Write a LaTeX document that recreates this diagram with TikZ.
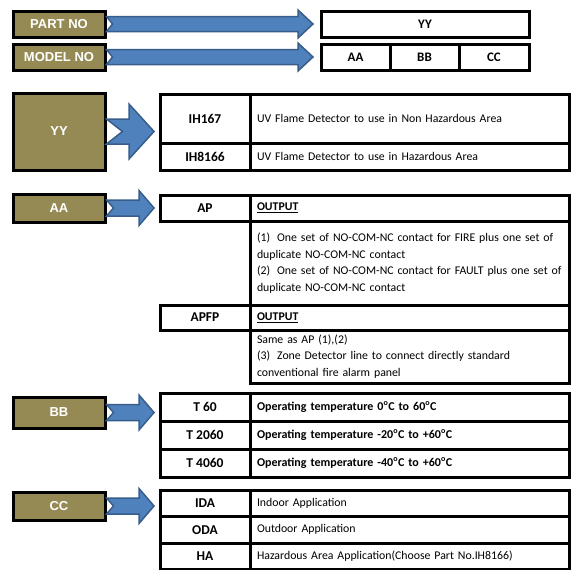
\documentclass[tikz,border=0pt]{standalone}
\usepackage{fontspec}
\setmainfont{Carlito}
\newfontfamily\arialfont{Liberation Sans}
\usetikzlibrary{calc}
\definecolor{olivebox}{RGB}{149,138,84}
\definecolor{arrowfill}{RGB}{79,129,189}
\definecolor{arrowline}{RGB}{56,93,138}
\newcommand\degC{\textsuperscript{o}C}
% notched block arrow: tail, tip, shaft half, head half, head length, notch
\newcommand\blockarrow[6]{%
  \draw[barrow] let \p1=#1, \p2=#2 in
    (\x1,\y1+#3pt) -- (\x2-#5pt,\y1+#3pt) -- (\x2-#5pt,\y1+#4pt) -- (\x2,\y1)
    -- (\x2-#5pt,\y1-#4pt) -- (\x2-#5pt,\y1-#3pt) -- (\x1,\y1-#3pt) -- (\x1+#6pt,\y1) -- cycle;}
\tikzset{
  olive/.style={draw=black,line width=3pt,fill=olivebox,text=white,inner sep=0pt,
    minimum width=92pt,font=\arialfont\bfseries\fontsize{13}{13}\selectfont},
  cell/.style={draw=black,line width=3pt,inner sep=0pt,outer sep=0pt,anchor=north west},
  headcell/.style={cell,minimum height=26pt,font=\bfseries\fontsize{13}{14}\selectfont},
  codecell/.style={cell,minimum width=90pt,font=\bfseries\fontsize{13.5}{15}\selectfont},
  desccell/.style={cell,inner xsep=7pt,text width=305pt,align=left,
    font=\fontsize{11.8}{16.5}\selectfont},
  tempcell/.style={desccell,font=\bfseries\fontsize{12}{14}\selectfont},
  barrow/.style={fill=arrowfill,draw=arrowline,line width=1.5pt,line join=miter}
}
\begin{document}
\begin{tikzpicture}[x=1pt,y=-1pt]
\useasboundingbox (0,0) rectangle (574,570);
% part and model number
\node[olive,minimum height=26pt] (partno) at (59,24) {PART NO};
\node[olive,minimum height=26pt] (modelno) at (59,57) {MODEL NO};
\node[headcell,minimum width=208pt] (yytop) at (321,11) {YY};
\node[headcell,minimum width=69pt] (aatop) at (321,44) {AA};
\node[headcell,minimum width=69pt] (bbtop) at (aatop.north east) {BB};
\node[headcell,minimum width=70pt] (cctop) at (bbtop.north east) {CC};
\blockarrow{(partno.east)}{([xshift=-8pt]yytop.west)}{7.5}{14}{15}{6}
\blockarrow{(modelno.east)}{([xshift=-8pt]aatop.west)}{7.5}{14}{15}{6}
% YY
\node[olive,minimum height=77pt] (yysec) at (59,131.5) {YY};
\node[codecell,minimum height=49pt] (ih167) at (160,94) {IH167};
\node[desccell,minimum height=49pt] (ih167d) at (ih167.north east) {UV Flame Detector to use in Non Hazardous Area};
\node[codecell,minimum height=27pt] (ih8166) at (ih167.south west) {IH8166};
\node[desccell,minimum height=27pt] (ih8166d) at (ih8166.north east) {UV Flame Detector to use in Hazardous Area};
\blockarrow{(yysec.east)}{([xshift=-6pt]ih167.west)}{12.5}{27.5}{25}{16}
% AA
\node[olive,minimum height=28pt] (aasec) at (59,208) {AA};
\node[codecell,minimum height=26pt] (ap) at (160,195) {AP};
\node[desccell,minimum height=26pt] (apd) at (ap.north east) {\underline{\textbf{OUTPUT}}};
\node[desccell,minimum height=84pt] (apnote) at (apd.south west) {(1)\hspace{7pt}One set of NO-COM-NC contact for FIRE plus one set of\\
  duplicate NO-COM-NC contact\\
  (2)\hspace{7pt}One set of NO-COM-NC contact for FAULT plus one set of\\
  duplicate NO-COM-NC contact};
\node[codecell,minimum height=25pt] (apfp) at (ap.west |- apnote.south) {APFP};
\node[desccell,minimum height=25pt] (apfpd) at (apfp.north east) {\underline{\textbf{OUTPUT}}};
\node[desccell,minimum height=53pt] (apfpnote) at (apfpd.south west) {Same as AP (1),(2)\\
  (3)\hspace{7pt}Zone Detector line to connect directly standard\\
  conventional fire alarm panel};
\blockarrow{(aasec.east)}{([xshift=-6pt]ap.west)}{8}{17.5}{15}{7}
% BB
\node[olive,minimum height=31pt] (bbsec) at (59,412.5) {BB};
\foreach \code/\txt [count=\i] in {T 60/{Operating temperature 0\degC{} to 60\degC},
    T 2060/{Operating temperature -20\degC{} to +60\degC},
    T 4060/{Operating temperature -40\degC{} to +60\degC}} {
  \node[codecell,minimum height=28pt] (bb\i) at (160,{393+28*(\i-1)}) {\code};
  \node[tempcell,minimum height=28pt] (bb\i d) at (bb\i.north east) {\txt};
}
\blockarrow{(bbsec.east)}{([xshift=-6pt]bb1.west)}{8}{17.5}{15}{7}
% CC
\node[olive,minimum height=28pt] (ccsec) at (59,506) {CC};
\foreach \code/\txt [count=\i] in {IDA/Indoor Application,ODA/Outdoor Application,
    HA/Hazardous Area Application(Choose Part No.IH8166)} {
  \node[codecell,minimum height=26.5pt] (cc\i) at (160,{490+26.5*(\i-1)}) {\code};
  \node[desccell,minimum height=26.5pt] (cc\i d) at (cc\i.north east) {\txt};
}
\blockarrow{(ccsec.east)}{([xshift=-6pt]cc1.west)}{8}{17.5}{15}{7}
\end{tikzpicture}
\end{document}
